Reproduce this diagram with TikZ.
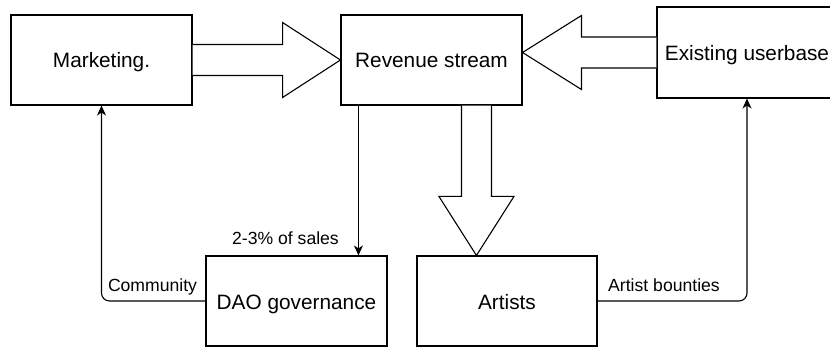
\documentclass[tikz,border=0pt]{standalone}
\usepackage{fontspec}
\setmainfont{Liberation Sans}
\usetikzlibrary{arrows.meta,calc}
\begin{document}
\begin{tikzpicture}[x=1pt,y=-1pt,
  box/.style={draw, line width=1.1pt, minimum width=181pt, minimum height=90pt,
    font=\fontsize{20.8}{24}\selectfont, text height=16pt, text depth=0pt, inner sep=0pt},
  lbl/.style={font=\fontsize{17.6}{20}\selectfont, inner sep=0pt, anchor=base},
  conn/.style={draw, line width=1.1pt, -{Stealth[length=10pt,width=9pt,inset=3pt]}, rounded corners=8pt},
  blockarrow/.style={draw, line width=1.1pt, fill=white, line join=miter}]
\useasboundingbox (0,0) rectangle (830,347);
\clip (0,0) rectangle (830,347);
\fill[white] (0,0) rectangle (830,347);

\node[box] (mk) at (101.5,60) {Marketing.};
\node[box] (rs) at (431.5,60) {Revenue stream};
\node[box, minimum width=180pt, minimum height=91pt] (eu) at (747,52.5) {Existing userbase};
\node[box] (dao) at (296.5,301) {DAO governance};
\node[box, minimum width=180pt] (ar) at (507,301) {Artists};

% block arrow Marketing -> Revenue
\draw[blockarrow] ($(mk.east)+(0,-15.5)$) -- ($(mk.east)+(90,-15.5)$) -- ($(mk.east)+(90,-37.5)$)
  -- (rs.west) -- ($(mk.east)+(90,37.5)$) -- ($(mk.east)+(90,15.5)$) -- ($(mk.east)+(0,15.5)$);

% block arrow Existing -> Revenue
\coordinate (tipL) at (eu.west -| rs.east);
\draw[blockarrow] ($(eu.west)+(0,-15.5)$) -- ($(eu.west)+(-75,-15.5)$) -- ($(eu.west)+(-75,-37)$)
  -- (tipL) -- ($(eu.west)+(-75,37)$) -- ($(eu.west)+(-75,15.5)$) -- ($(eu.west)+(0,15.5)$);

% block arrow Revenue -> Artists
\coordinate (tipD) at ($(ar.north west)+(60,0)$);
\coordinate (topD) at (tipD |- rs.south);
\draw[blockarrow] ($(topD)+(-15,0)$) -- ($(tipD)+(-15,-59)$) -- ($(tipD)+(-37.5,-59)$)
  -- (tipD) -- ($(tipD)+(37.5,-59)$) -- ($(tipD)+(15,-59)$) -- ($(topD)+(15,0)$);

% connectors
\coordinate (rsd) at ($(rs.south west)+(18,0)$);
\draw[conn] (rsd) -- (rsd |- dao.north);
\node[lbl] (l1) at (285.5,244.5) {2-3\% of sales};

\draw[conn] (dao.west) -| (mk.south);
\node[lbl] (l2) at (152.5,292) {Community};

\draw[conn] (ar.east) -| (eu.south);
\node[lbl] (l3) at (664,292) {Artist bounties};
\end{tikzpicture}
\end{document}
